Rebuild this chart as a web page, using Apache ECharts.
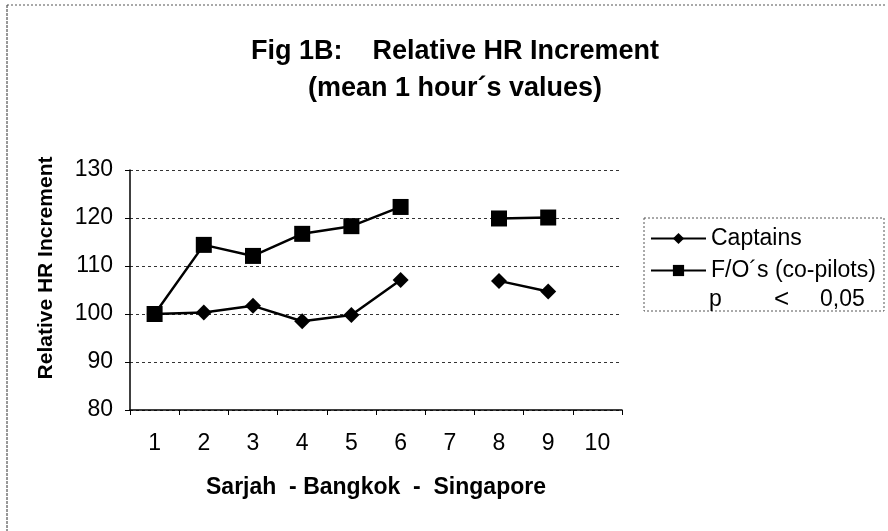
<!DOCTYPE html>
<html>
<head>
<meta charset="utf-8">
<script src="https://cdn.jsdelivr.net/npm/echarts@6/dist/echarts.min.js"></script>
<style>
  html, body { margin: 0; padding: 0; background: #fff; }
  #main { width: 888px; height: 531px; }
</style>
</head>
<body>
<div id="main"></div>
<script>
// categories (flight legs) and values
const legs = ['1', '2', '3', '4', '5', '6', '7', '8', '9', '10']
const captains = [100, 100.3, 101.7, 98.5, 99.8, 107.1, null, 106.9, 104.7, null]
const copilots = [100, 114.4, 112.1, 116.7, 118.3, 122.3, null, 119.9, 120.1, null]
const yTicks = { min: 80, max: 130, interval: 10 }

const font = 'Liberation Sans, Arial, sans-serif'
const myChart = echarts.init(document.getElementById('main'))

const option = {
  backgroundColor: '#fff',
  animation: false,
  title: {
    text: 'Fig 1B:    Relative HR Increment\n(mean 1 hour\u00b4s values)',
    left: 450,
    textAlign: 'center',
    top: 28,
    textStyle: {
      fontFamily: font,
      fontWeight: 'bold',
      fontSize: 27,
      lineHeight: 37,
      color: '#000'
    }
  },
  legend: {
    orient: 'vertical',
    left: 645,
    top: 222,
    itemWidth: 55,
    itemHeight: 14,
    itemGap: 9,
    textStyle: { fontFamily: font, fontSize: 23, color: '#000' },
    data: ['Captains', 'F/O\u00b4s (co-pilots)']
  },
  grid: { left: 130, right: 266, top: 170, bottom: 121 },
  xAxis: {
    type: 'category',
    data: legs,
    name: 'Sarjah  - Bangkok  -  Singapore',
    nameLocation: 'middle',
    nameGap: 66,
    nameTextStyle: { fontFamily: font, fontWeight: 'bold', fontSize: 23, color: '#000' },
    axisLine: { lineStyle: { color: '#000', width: 1.5 } },
    axisTick: { show: true, length: 5, lineStyle: { color: '#000' } },
    axisLabel: { fontFamily: font, fontSize: 23, color: '#000', margin: 22 }
  },
  yAxis: {
    type: 'value',
    min: yTicks.min,
    max: yTicks.max,
    interval: yTicks.interval,
    axisLine: { show: true, lineStyle: { color: '#000', width: 1.5 } },
    axisTick: { show: true, length: 5, lineStyle: { color: '#000' } },
    axisLabel: { fontFamily: font, fontSize: 23, color: '#000', margin: 17 },
    splitLine: { lineStyle: { color: '#333', type: [3, 3], width: 1 } }
  },
  graphic: [
    // outer frame (only top and left visible in the scan)
    { type: 'line', shape: { x1: 7, y1: 5, x2: 886, y2: 5 }, style: { stroke: '#555', lineDash: [2, 2], lineWidth: 1 } },
    { type: 'line', shape: { x1: 7, y1: 5, x2: 7, y2: 531 }, style: { stroke: '#333', lineDash: [3, 1], lineWidth: 1 } },
    // y axis title, sits a little above the middle of the axis in the scan
    {
      type: 'text', x: 46, y: 268, rotation: Math.PI / 2,
      style: { text: 'Relative HR Increment', font: 'bold 21px ' + font, fill: '#000', align: 'center', verticalAlign: 'middle' }
    },
    // legend box
    { type: 'rect', shape: { x: 644, y: 218, width: 240, height: 93 }, style: { fill: 'none', stroke: '#555', lineDash: [2, 2], lineWidth: 1 } },
    { type: 'text', x: 709, y: 300, style: { text: 'p', font: '23px ' + font, fill: '#000', verticalAlign: 'middle' } },
    { type: 'text', x: 774, y: 300, style: { text: '<', font: '26px ' + font, fill: '#000', verticalAlign: 'middle' } },
    { type: 'text', x: 820, y: 300, style: { text: '0,05', font: '23px ' + font, fill: '#000', verticalAlign: 'middle' } }
  ],
  series: [
    {
      name: 'Captains',
      type: 'line',
      data: captains,
      connectNulls: false,
      symbol: 'diamond',
      symbolSize: 16,
      itemStyle: { color: '#000' },
      lineStyle: { color: '#000', width: 2.5 }
    },
    {
      name: 'F/O\u00b4s (co-pilots)',
      type: 'line',
      data: copilots,
      connectNulls: false,
      symbol: 'rect',
      symbolSize: 16,
      itemStyle: { color: '#000' },
      lineStyle: { color: '#000', width: 2.5 }
    }
  ]
}
myChart.setOption(option)
</script>
</body>
</html>
